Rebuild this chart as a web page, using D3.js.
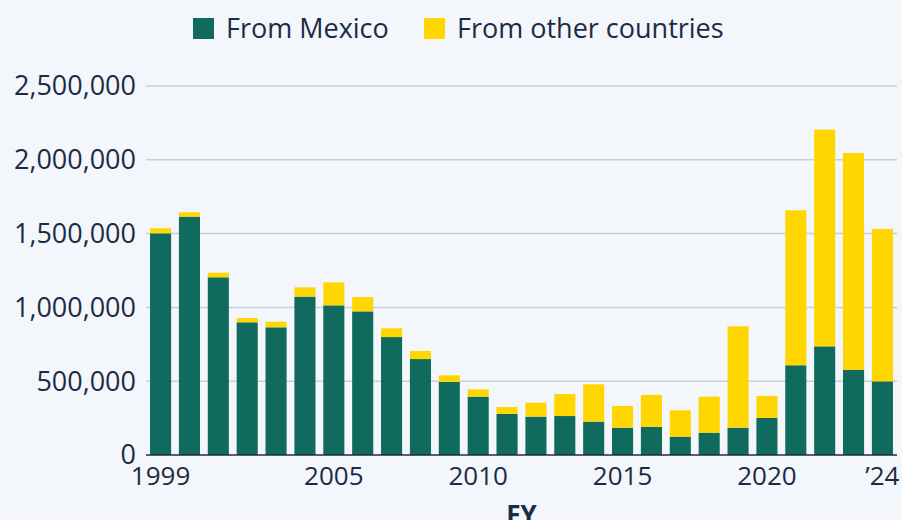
<!DOCTYPE html>
<html lang="en">
<head>
  <meta charset="UTF-8">
  <script src="https://d3js.org/d3.v7.min.js"></script>
  <title>Apprehensions by FY</title>
  <style>
    body { margin: 0; background: #f3f6fa; }
    text { font-family: "Open Sans", sans-serif; fill: #1b2b45; }
  </style>
</head>
<body>
  <div class="chart"></div>
  <script>
    const years = d3.range(1999, 2025);
    const fromMexico = [1502000, 1615000, 1204000, 899000, 865000, 1073000, 1014000, 973000, 799000, 650000,
      495000, 395000, 278000, 260000, 264000, 226000, 185000, 190000, 124000, 151000,
      185000, 251000, 608000, 736000, 578000, 499000];
    const fromOther = [34000, 29000, 31000, 29000, 38000, 63000, 156000, 97000, 59000, 55000,
      45000, 50000, 47000, 94000, 149000, 253000, 147000, 217000, 179000, 244000,
      687000, 149000, 1050000, 1468000, 1468000, 1032000];
    const yTicks = [0, 500000, 1000000, 1500000, 2000000, 2500000];
    const xTickYears = [1999, 2005, 2010, 2015, 2020, 2024];
    const seriesNames = ['From Mexico', 'From other countries'];
    const colors = ['#106a5e', '#ffd600'];

    const width = 902, height = 520;
    const margin = { top: 86, right: 5, bottom: 65, left: 146 };

    const svg = d3.select('.chart').append('svg').attr('width', width).attr('height', height);

    const x = d3.scaleBand().domain(years).range([margin.left, width - margin.right]).paddingInner(0.27).paddingOuter(0.14);
    const y = d3.scaleLinear().domain([0, 2500000]).range([height - margin.bottom, margin.top]);

    // grid
    svg.append('g').selectAll('line').data(yTicks.slice(1)).join('line')
      .attr('x1', margin.left).attr('x2', width - margin.right)
      .attr('y1', d => y(d)).attr('y2', d => y(d))
      .attr('stroke', '#c9cfd8').attr('stroke-width', 1.5);

    svg.append('g').selectAll('text').data(yTicks).join('text')
      .attr('x', 136).attr('y', d => y(d)).attr('dy', '0.35em')
      .attr('text-anchor', 'end').style('font-size', '27px')
      .text(d => d3.format(',')(d));

    // stacked bars
    const rows = years.map((yr, i) => ({ year: yr, mexico: fromMexico[i], other: fromOther[i] }));
    const stack = d3.stack().keys(['mexico', 'other'])(rows);

    svg.append('g').selectAll('g').data(stack).join('g')
      .attr('fill', (d, i) => colors[i])
      .selectAll('rect').data(d => d).join('rect')
      .attr('x', d => x(d.data.year))
      .attr('width', x.bandwidth())
      .attr('y', d => y(d[1]))
      .attr('height', d => y(d[0]) - y(d[1]));

    // baseline
    svg.append('line')
      .attr('x1', margin.left).attr('x2', width - margin.right)
      .attr('y1', y(0)).attr('y2', y(0))
      .attr('stroke', '#1f2d40').attr('stroke-width', 1.5);

    svg.append('g').selectAll('text').data(xTickYears).join('text')
      .attr('x', d => x(d) + x.bandwidth() / 2).attr('y', 485)
      .attr('text-anchor', 'middle').style('font-size', '26px')
      .text(d => d === 2024 ? '\u201924' : d);

    svg.append('text')
      .attr('x', (margin.left + width - margin.right) / 2).attr('y', 524)
      .attr('text-anchor', 'middle').style('font-size', '26px').style('font-weight', 'bold')
      .text('FY');

    // legend
    const legendX = [193, 424];
    const legend = svg.append('g').selectAll('g').data(seriesNames).join('g')
      .attr('transform', (d, i) => `translate(${legendX[i]},18)`);
    legend.append('rect').attr('width', 21).attr('height', 21).attr('fill', (d, i) => colors[i]);
    legend.append('text').attr('x', 33).attr('y', 10.5).attr('dy', '0.35em')
      .style('font-size', '27px').text(d => d);
  </script>
</body>
</html>
